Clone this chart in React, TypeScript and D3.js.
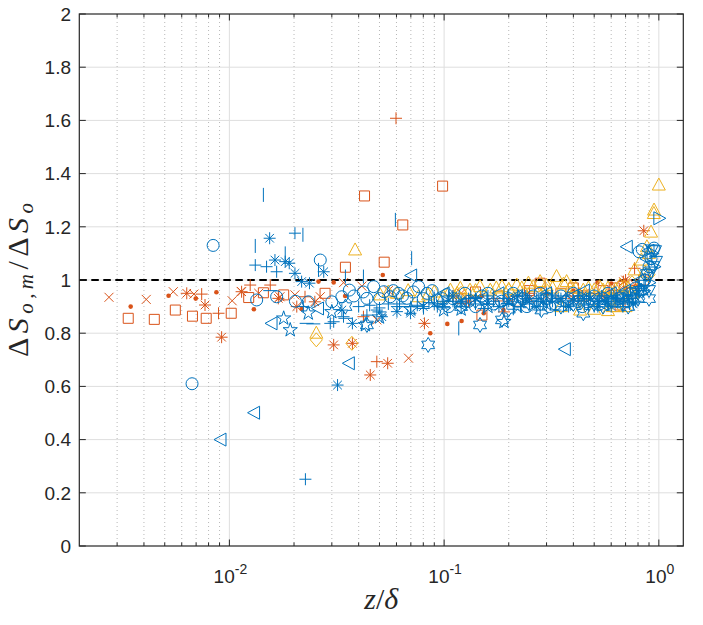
import * as d3 from 'd3';
import React from 'react';

type Pt = [number, number];

// ---- data: [z/delta, dS_om/dS_o] ----
const orangeX: Pt[] = [
  [0.00275, 0.935], [0.0041, 0.927], [0.00548, 0.956], [0.00684, 0.947], [0.0103, 0.922],
  [0.01135, 0.957], [0.0137, 0.95], [0.0172, 0.937], [0.0202, 0.944], [0.0265, 0.937],
  [0.034, 0.99], [0.0414, 0.977], [0.0486, 0.85], [0.0683, 0.706], [0.055, 0.96],
  [0.12, 0.95], [0.2, 0.93], [0.3, 0.94], [0.45, 0.95], [0.65, 0.96],
];
const orangeDot: Pt[] = [
  [0.00347, 0.9], [0.00521, 0.941], [0.00697, 0.93], [0.0087, 0.954], [0.013, 0.89],
  [0.0217, 0.891], [0.026, 0.994], [0.0306, 0.991], [0.0346, 0.94], [0.0518, 1.019],
  [0.0862, 0.8], [0.1035, 0.835], [0.1206, 0.846], [0.153, 0.875], [0.189, 0.887],
  [0.518, 0.99], [0.6, 0.987], [0.15, 0.94], [0.3, 0.95], [0.4, 0.96], [0.7, 0.97],
];
const orangeSquare: Pt[] = [
  [0.00338, 0.856], [0.00447, 0.852], [0.0056, 0.887], [0.00673, 0.864], [0.0078, 0.856],
  [0.0102, 0.875], [0.0123, 0.934], [0.0144, 0.952], [0.0179, 0.944], [0.0279, 0.95],
  [0.0347, 1.048], [0.0426, 1.316], [0.0526, 1.067], [0.0642, 1.207], [0.0984, 1.353],
  [0.15, 0.868], [0.28, 0.988], [0.66, 0.906], [0.12, 0.93], [0.18, 0.94], [0.22, 0.92],
  [0.35, 0.95], [0.45, 0.94], [0.55, 0.96], [0.75, 0.95], [0.85, 1.0],
  [0.14, 0.955], [0.25, 0.96], [0.4, 0.97], [0.62, 0.97],
];
const orangePlus: Pt[] = [
  [0.0597, 1.608], [0.0089, 0.875], [0.00743, 0.947], [0.0125, 0.981], [0.0155, 0.981],
  [0.0225, 0.937], [0.0421, 0.862], [0.0486, 0.693], [0.19, 0.88], [0.771, 1.044],
  [0.11, 0.94], [0.17, 0.93], [0.25, 0.95], [0.4, 0.94], [0.5, 0.95], [0.62, 0.96], [0.8, 0.98],
];
const orangeStar: Pt[] = [
  [0.00633, 0.95], [0.0077, 0.906], [0.0092, 0.785], [0.0114, 0.956], [0.0169, 0.931],
  [0.0206, 0.9], [0.025, 0.918], [0.0306, 0.756], [0.0374, 0.762], [0.0546, 0.687],
  [0.0453, 0.643], [0.081, 0.837], [0.851, 1.185], [0.7, 1.0], [0.684, 0.994],
  [0.13, 0.92], [0.25, 0.93], [0.4, 0.93], [0.55, 0.94], [0.78, 0.98],
];
const yellowTri: Pt[] = [
  [0.0385, 1.113], [0.0254, 0.8], [0.0504, 0.944], [0.0603, 0.95], [0.0761, 0.937],
  [0.0843, 0.944], [0.0995, 0.937], [0.107, 0.962], [0.119, 0.969], [0.132, 0.962],
  [0.147, 0.975], [0.164, 0.962], [0.186, 0.975], [0.218, 0.981], [0.247, 0.988],
  [0.28, 0.994], [0.334, 1.013], [0.372, 0.994], [0.41, 0.969], [0.445, 0.962],
  [0.5, 0.962], [0.55, 0.962], [0.61, 0.9], [0.64, 0.9], [0.43, 0.887], [0.69, 0.975],
  [0.77, 1.038], [0.83, 1.075], [0.88, 1.125], [0.948, 1.25], [0.95, 1.263], [1.0, 1.357],
  [0.055, 0.955], [0.068, 0.96], [0.09, 0.955], [0.115, 0.95], [0.14, 0.96],
  [0.175, 0.97], [0.2, 0.965], [0.23, 0.97], [0.26, 0.975], [0.3, 0.98], [0.32, 0.97],
  [0.36, 0.985], [0.39, 0.975], [0.47, 0.97], [0.53, 0.975], [0.58, 0.97], [0.63, 0.965],
  [0.66, 0.98], [0.72, 0.97], [0.75, 0.95], [0.35, 0.9], [0.5, 0.89], [0.7, 0.9],
  [0.58, 0.885], [0.86, 1.03], [0.9, 1.1], [0.92, 1.18],
];
const yellowDiamond: Pt[] = [
  [0.0254, 0.775], [0.0372, 0.762], [0.12, 0.95], [0.2, 0.96], [0.3, 0.96],
  [0.45, 0.94], [0.6, 0.93], [0.75, 0.99], [0.9, 1.02],
];
const blueCircle: Pt[] = [
  [0.0084, 1.13], [0.0067, 0.61], [0.0134, 0.925], [0.0166, 0.937], [0.0203, 0.92],
  [0.0233, 0.918], [0.0265, 1.075], [0.03, 0.918], [0.0334, 0.937], [0.0362, 0.962],
  [0.0437, 0.931], [0.047, 0.975], [0.0524, 0.956], [0.0561, 0.937], [0.0613, 0.95],
  [0.0671, 0.931], [0.0761, 0.975], [0.0834, 0.95], [0.093, 0.925], [0.103, 0.945],
  [0.11, 0.93], [0.13, 0.92], [0.15, 0.94], [0.17, 0.91], [0.2, 0.93], [0.22, 0.92],
  [0.243, 0.9], [0.26, 0.94], [0.3, 0.93], [0.33, 0.91], [0.38, 0.93], [0.42, 0.92],
  [0.465, 0.918], [0.5, 0.94], [0.55, 0.93], [0.62, 0.92], [0.68, 0.94], [0.74, 0.95],
  [0.78, 0.97], [0.81, 1.106], [0.837, 1.115], [0.86, 1.0], [0.9, 1.05],
  [0.038, 0.94], [0.042, 0.955], [0.05, 0.93], [0.058, 0.96], [0.064, 0.94],
  [0.072, 0.955], [0.08, 0.93], [0.088, 0.96], [0.098, 0.93],
  [0.105, 0.9], [0.125, 0.95], [0.14, 0.9], [0.16, 0.95], [0.185, 0.92], [0.21, 0.95],
  [0.235, 0.93], [0.28, 0.95], [0.31, 0.9], [0.35, 0.94], [0.4, 0.95], [0.44, 0.9],
  [0.48, 0.93], [0.53, 0.91], [0.58, 0.95], [0.65, 0.93], [0.71, 0.92],
  [0.88, 1.02], [0.92, 1.08], [0.95, 1.12],
];
const bluePlus: Pt[] = [
  [0.0132, 1.056], [0.0202, 1.176], [0.0149, 1.05], [0.0166, 1.031], [0.0221, 0.9],
  [0.0295, 0.837], [0.034, 0.862], [0.0437, 0.868], [0.0486, 0.887], [0.0603, 0.9],
  [0.0802, 0.893], [0.093, 0.9], [0.0306, 0.843], [0.0226, 0.251], [0.153, 0.893],
  [0.196, 0.912], [0.227, 0.9], [0.28, 0.887], [0.33, 0.887], [0.387, 0.906],
  [0.47, 0.906], [0.574, 0.918], [0.64, 0.931], [0.71, 0.944], [0.81, 0.975],
  [0.11, 0.92], [0.12, 0.9], [0.14, 0.91], [0.17, 0.92], [0.25, 0.91], [0.32, 0.92],
  [0.36, 0.9], [0.43, 0.91], [0.52, 0.92], [0.58, 0.91], [0.66, 0.92], [0.75, 0.93],
  [0.85, 0.96], [0.04, 0.9], [0.055, 0.91], [0.07, 0.9],
  [0.045, 0.905], [0.05, 0.895], [0.062, 0.91], [0.075, 0.905], [0.085, 0.915], [0.098, 0.91],
  [0.105, 0.94], [0.13, 0.93], [0.16, 0.94], [0.19, 0.93], [0.21, 0.89], [0.24, 0.94],
  [0.27, 0.93], [0.3, 0.95], [0.34, 0.93], [0.42, 0.94], [0.46, 0.93], [0.5, 0.9],
  [0.54, 0.94], [0.6, 0.94], [0.68, 0.9], [0.73, 0.91], [0.78, 0.92],
];
const blueStar: Pt[] = [
  [0.0154, 1.157], [0.0163, 1.075], [0.0182, 1.069], [0.019, 1.063], [0.0202, 1.025],
  [0.0217, 0.994], [0.0236, 0.988], [0.0275, 1.031], [0.0319, 0.605], [0.0334, 0.887],
  [0.0374, 0.837], [0.0513, 0.862], [0.0603, 0.881], [0.0697, 0.875], [0.08, 0.9],
  [0.09, 0.91], [0.1, 0.9], [0.12, 0.92], [0.16, 0.91], [0.2, 0.92], [0.24, 0.93],
  [0.29, 0.92], [0.35, 0.93], [0.4, 0.92], [0.48, 0.93], [0.56, 0.92], [0.63, 0.93],
  [0.72, 0.94], [0.8, 0.96],
  [0.11, 0.94], [0.14, 0.93], [0.18, 0.9], [0.22, 0.94], [0.27, 0.9], [0.32, 0.94],
  [0.38, 0.9], [0.44, 0.94], [0.52, 0.9], [0.6, 0.9], [0.68, 0.93], [0.76, 0.91],
];
const blueVbar: Pt[] = [
  [0.0144, 1.32], [0.0132, 1.128], [0.0182, 1.1], [0.022, 1.17], [0.026, 1.038],
  [0.0593, 1.226], [0.0706, 1.082], [0.0421, 1.013], [0.0347, 1.013], [0.117, 0.818],
  [0.09, 0.93], [0.14, 0.92], [0.2, 0.94], [0.3, 0.92], [0.45, 0.91], [0.6, 0.93],
];
const blueHbar: Pt[] = [
  [0.0246, 0.835], [0.0229, 0.837], [0.0347, 0.856], [0.05, 0.88], [0.065, 0.9],
  [0.0155, 0.96], [0.1, 0.92], [0.14, 0.93], [0.2, 0.91], [0.27, 0.92], [0.36, 0.94],
  [0.45, 0.93], [0.55, 0.92], [0.65, 0.93], [0.75, 0.94],
];
const blueLeft: Pt[] = [
  [0.0131, 0.501], [0.00914, 0.4], [0.0158, 0.837], [0.0362, 0.687], [0.0706, 1.017],
  [0.026, 0.893], [0.713, 1.125], [0.367, 0.74], [0.1, 0.95], [0.15, 0.93],
  [0.22, 0.94], [0.3, 0.95], [0.4, 0.94], [0.5, 0.93], [0.6, 0.95], [0.7, 0.96],
  [0.82, 1.0], [0.88, 1.08], [0.9, 1.11],
  [0.12, 0.91], [0.18, 0.95], [0.26, 0.92], [0.35, 0.92], [0.45, 0.96], [0.55, 0.91], [0.65, 0.93],
];
const blueRight: Pt[] = [
  [1.0, 1.232], [0.95, 1.05], [0.9, 0.99], [0.85, 0.96], [0.93, 1.1],
];
const blueDown: Pt[] = [
  [0.93, 1.113], [0.96, 1.11], [0.97, 1.07], [0.92, 1.03], [0.88, 1.02],
  [0.85, 0.98], [0.8, 0.95], [0.9, 0.96], [0.94, 1.05],
];
const blueHexagram: Pt[] = [
  [0.0843, 0.756], [0.147, 0.831], [0.186, 0.85], [0.284, 0.887], [0.445, 0.875],
  [0.0347, 0.9], [0.0437, 0.831], [0.12, 0.9], [0.2, 0.89], [0.25, 0.91],
  [0.35, 0.9], [0.5, 0.91], [0.6, 0.92], [0.68, 0.91], [0.76, 0.93], [0.83, 0.96], [0.9, 0.93],
  [0.14, 0.92], [0.23, 0.93], [0.3, 0.93], [0.4, 0.91], [0.55, 0.9], [0.72, 0.9], [0.8, 0.93],
];
const bluePentagram: Pt[] = [
  [0.0179, 0.856], [0.0192, 0.812], [0.0233, 0.875], [0.043, 0.831], [0.0995, 0.887],
  [0.19, 0.843], [0.03, 0.88], [0.05, 0.86], [0.07, 0.89], [0.12, 0.89],
  [0.16, 0.9], [0.22, 0.9], [0.3, 0.91],
];

const yTicks = [0, 0.2, 0.4, 0.6, 0.8, 1, 1.2, 1.4, 1.6, 1.8, 2];
const xDecades = [0.01, 0.1, 1];
const xDecadeLabels = ['-2', '-1', '0'];

const BLUE = '#0072BD';
const ORANGE = '#D95319';
const YELLOW = '#EDB120';

function star(n: number, R: number, r: number) {
  const pts: string[] = [];
  for (let i = 0; i < 2 * n; i++) {
    const a = -Math.PI / 2 + (i * Math.PI) / n;
    const rr = i % 2 === 0 ? R : r;
    pts.push(`${(rr * Math.cos(a)).toFixed(2)},${(rr * Math.sin(a)).toFixed(2)}`);
  }
  return 'M' + pts.join('L') + 'Z';
}

const markerPaths: Record<string, string> = {
  square: 'M-5,-5h10v10h-10z',
  plus: 'M-6,0H6M0,-6V6',
  x: 'M-4.5,-4.5L4.5,4.5M-4.5,4.5L4.5,-4.5',
  asterisk: 'M-6,0H6M0,-6V6M-4.3,-4.3L4.3,4.3M-4.3,4.3L4.3,-4.3',
  up: 'M0,-7L6.5,5L-6.5,5Z',
  left: 'M-7,0L5,-6.5L5,6.5Z',
  right: 'M7,0L-5,-6.5L-5,6.5Z',
  down: 'M0,7L6.5,-5L-6.5,-5Z',
  diamond: 'M0,-7L6,0L0,7L-6,0Z',
  hexagram: star(6, 7.5, 7.5 / Math.sqrt(3)),
  pentagram: star(5, 7.5, 7.5 * 0.382),
  vbar: 'M0,-7V7',
  hbar: 'M-7,0H7',
};

const series: { data: Pt[]; marker: string; color: string }[] = [
  { data: orangeSquare, marker: 'square', color: ORANGE },
  { data: orangeX, marker: 'x', color: ORANGE },
  { data: orangeDot, marker: 'dot', color: ORANGE },
  { data: orangePlus, marker: 'plus', color: ORANGE },
  { data: orangeStar, marker: 'asterisk', color: ORANGE },
  { data: yellowTri, marker: 'up', color: YELLOW },
  { data: yellowDiamond, marker: 'diamond', color: YELLOW },
  { data: blueCircle, marker: 'circle', color: BLUE },
  { data: blueLeft, marker: 'left', color: BLUE },
  { data: blueRight, marker: 'right', color: BLUE },
  { data: blueDown, marker: 'down', color: BLUE },
  { data: blueHexagram, marker: 'hexagram', color: BLUE },
  { data: bluePentagram, marker: 'pentagram', color: BLUE },
  { data: blueHbar, marker: 'hbar', color: BLUE },
  { data: blueVbar, marker: 'vbar', color: BLUE },
  { data: bluePlus, marker: 'plus', color: BLUE },
  { data: blueStar, marker: 'asterisk', color: BLUE },
];

const W = 703;
const H = 625;
const left = 79.3;
const right = 683.3;
const top = 14;
const bottom = 546;

export default function App() {
  const x = d3.scaleLog().domain([0.002, 1.3]).range([left, right]);
  const y = d3.scaleLinear().domain([0, 2]).range([bottom, top]);

  const minor: number[] = [];
  [0.001, 0.01, 0.1].forEach(d => {
    for (let k = 2; k <= 9; k++) {
      const v = d * k;
      if (v > 0.002 && v < 1.3) minor.push(v);
    }
  });

  const axisColor = '#262626';
  const sans = "'Liberation Sans', Arial, Helvetica, sans-serif";
  const serif = "'Liberation Serif', 'Times New Roman', serif";

  return (
    <div style={{ position: 'absolute', left: 0, top: 0 }}>
      <svg width={W} height={H} style={{ display: 'block', background: '#fff' }}>
        {/* grid */}
        {yTicks.slice(1, -1).map(t => (
          <line key={'gy' + t} x1={left} x2={right} y1={y(t)} y2={y(t)} stroke="#dedede" strokeWidth={1} />
        ))}
        {minor.map(v => (
          <line key={'gm' + v} x1={x(v)} x2={x(v)} y1={top} y2={bottom} stroke="#b8b8b8" strokeWidth={1} strokeDasharray="1 3" />
        ))}
        {xDecades.map(v => (
          <line key={'gx' + v} x1={x(v)} x2={x(v)} y1={top} y2={bottom} stroke="#dedede" strokeWidth={1} />
        ))}

        {/* reference line */}
        <line x1={left} x2={right} y1={y(1)} y2={y(1)} stroke="#000" strokeWidth={2.2} strokeDasharray="7.5 4.5" />

        {/* markers */}
        {series.map((s, si) => (
          <g key={si} stroke={s.color} fill="none" strokeWidth={1}>
            {s.data.map((p, i) => {
              const tx = x(p[0]);
              const ty = y(p[1]);
              if (s.marker === 'circle') return <circle key={i} cx={tx} cy={ty} r={6} />;
              if (s.marker === 'dot') return <circle key={i} cx={tx} cy={ty} r={2.3} fill={s.color} stroke="none" />;
              return <path key={i} d={markerPaths[s.marker]} transform={`translate(${tx},${ty})`} />;
            })}
          </g>
        ))}

        {/* axes frame */}
        <rect x={left} y={top} width={right - left} height={bottom - top} fill="none" stroke={axisColor} strokeWidth={1.2} />
        {yTicks.map(t => (
          <g key={'ty' + t} stroke={axisColor} strokeWidth={1}>
            <line x1={left} x2={left + 6.5} y1={y(t)} y2={y(t)} />
            <line x1={right} x2={right - 6.5} y1={y(t)} y2={y(t)} />
          </g>
        ))}
        {xDecades.map(v => (
          <g key={'tx' + v} stroke={axisColor} strokeWidth={1}>
            <line x1={x(v)} x2={x(v)} y1={bottom} y2={bottom - 6.5} />
            <line x1={x(v)} x2={x(v)} y1={top} y2={top + 6.5} />
          </g>
        ))}
        {minor.map(v => (
          <g key={'tm' + v} stroke={axisColor} strokeWidth={1}>
            <line x1={x(v)} x2={x(v)} y1={bottom} y2={bottom - 3.5} />
            <line x1={x(v)} x2={x(v)} y1={top} y2={top + 3.5} />
          </g>
        ))}

        {/* tick labels */}
        {yTicks.map(t => (
          <text key={'ly' + t} x={71} y={y(t)} dy="0.36em" textAnchor="end" fontFamily={sans} fontSize={19} fill={axisColor}>
            {String(t)}
          </text>
        ))}
        {xDecades.map((v, i) => (
          <text key={'lx' + v} x={x(v) + 1} y={583} textAnchor="middle" fontFamily={sans} fontSize={19} fill={axisColor}>
            10
            <tspan dy={-9} fontSize={14}>{xDecadeLabels[i]}</tspan>
          </text>
        ))}

        {/* axis labels */}
        <text x={(left + right) / 2} y={609} textAnchor="middle" fontFamily={serif} fontSize={30} fill={axisColor}>
          <tspan fontStyle="italic">z</tspan>
          <tspan>/</tspan>
          <tspan fontStyle="italic">δ</tspan>
        </text>
        <text
          transform={`translate(28,${(top + bottom) / 2}) rotate(-90)`}
          textAnchor="middle"
          fontFamily={serif}
          fontSize={30}
          fill={axisColor}
          textLength={154}
          lengthAdjust="spacing"
        >
          <tspan>Δ</tspan>
          <tspan fontStyle="italic">S</tspan>
          <tspan fontStyle="italic" fontSize={21} dy={5}>o,m</tspan>
          <tspan dy={-5}>/Δ</tspan>
          <tspan fontStyle="italic">S</tspan>
          <tspan fontStyle="italic" fontSize={21} dy={5}>o</tspan>
        </text>
      </svg>
    </div>
  );
}
